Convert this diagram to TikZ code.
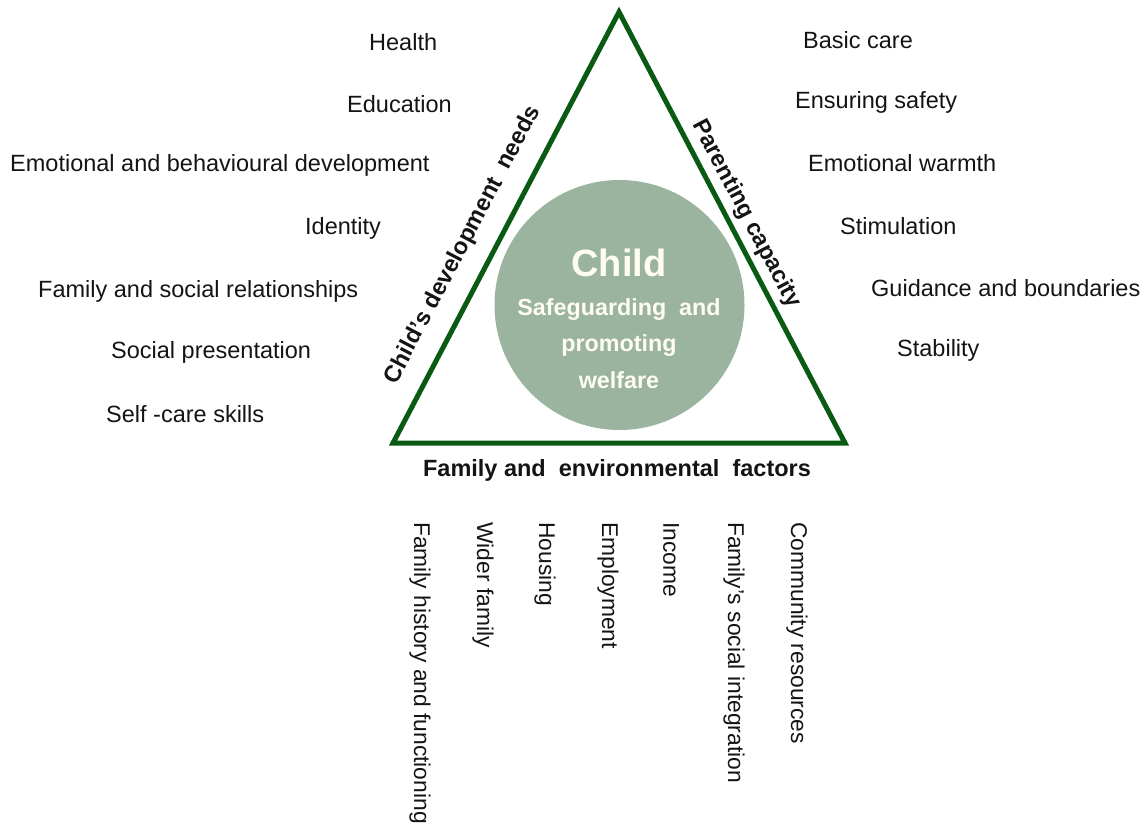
\documentclass[tikz,border=0pt]{standalone}
\usepackage{fontspec}
\setmainfont{Liberation Sans}
\definecolor{tri}{HTML}{0B5A14}
\definecolor{disc}{HTML}{9AB4A0}
\definecolor{txt}{HTML}{141414}
\definecolor{cream}{HTML}{FFFDF0}
\begin{document}
\begin{tikzpicture}[x=1pt,y=-1pt,
  lbl/.style={inner sep=0pt,text=txt,font=\fontsize{23.5}{27}\selectfont},
  side/.style={inner sep=0pt,text=txt,font=\bfseries\fontsize{23.5}{27}\selectfont},
  vlbl/.style={lbl,rotate=-90,anchor=west,font=\fontsize{22.8}{27}\selectfont},
  inner/.style={inner sep=0pt,text=cream,font=\bfseries\fontsize{23.3}{27}\selectfont}]
\useasboundingbox (0,0) rectangle (1146,828);
% disc
\node[circle,fill=disc,minimum size=250pt,inner sep=0pt] (disc) at (619.5,305) {};
% triangle
\coordinate (apex) at (619,12);
\coordinate (bl) at (393,443);
\coordinate (br) at (845,443);
\draw[tri,line width=5pt,line join=miter] (apex) -- (bl) -- (br) -- cycle;
% inner texts
\node[inner,font=\bfseries\fontsize{38}{40}\selectfont] (child) at (619,263) {Child};
\node[inner] (t1) at (619,310) {Safeguarding\ \ and};
\node[inner] (t2) at (619,346) {promoting};
\node[inner] (t3) at (619,380) {welfare};
% side labels
\node[side,rotate=62.3] (sl) at (463,245) {Child's development\ \ needs};
\node[side,rotate=-62.3] (sr) at (746,214) {Parenting capacity};
\node[side] (sb) at (617,470) {Family and\ \ environmental\ \ factors};
% left labels
\node[lbl,anchor=west] (l1) at (369,42) {Health};
\node[lbl,anchor=west] (l2) at (347,104) {Education};
\node[lbl,anchor=west] (l3) at (10,165) {Emotional and behavioural development};
\node[lbl,anchor=west] (l4) at (305,228) {Identity};
\node[lbl,anchor=west] (l5) at (38,291) {Family and social relationships};
\node[lbl,anchor=west] (l6) at (111,352) {Social presentation};
\node[lbl,anchor=west] (l7) at (106,414) {Self -care skills};
% right labels
\node[lbl,anchor=west] (r1) at (803,40) {Basic care};
\node[lbl,anchor=west] (r2) at (795,102) {Ensuring safety};
\node[lbl,anchor=west] (r3) at (808,163) {Emotional warmth};
\node[lbl,anchor=west] (r4) at (840,226) {Stimulation};
\node[lbl,anchor=west] (r5) at (871,288) {Guidance and boundaries};
\node[lbl,anchor=west] (r6) at (897,350) {Stability};
% bottom labels
\node[vlbl] (b1) at (420,522) {Family history and functioning};
\node[vlbl] (b2) at (483,522) {Wider family};
\node[vlbl] (b3) at (545,522) {Housing};
\node[vlbl] (b4) at (608,522) {Employment};
\node[vlbl] (b5) at (671,522) {Income};
\node[vlbl] (b6) at (734,522) {Family's social integration};
\node[vlbl] (b7) at (797,522) {Community resources};
\end{tikzpicture}
\end{document}
